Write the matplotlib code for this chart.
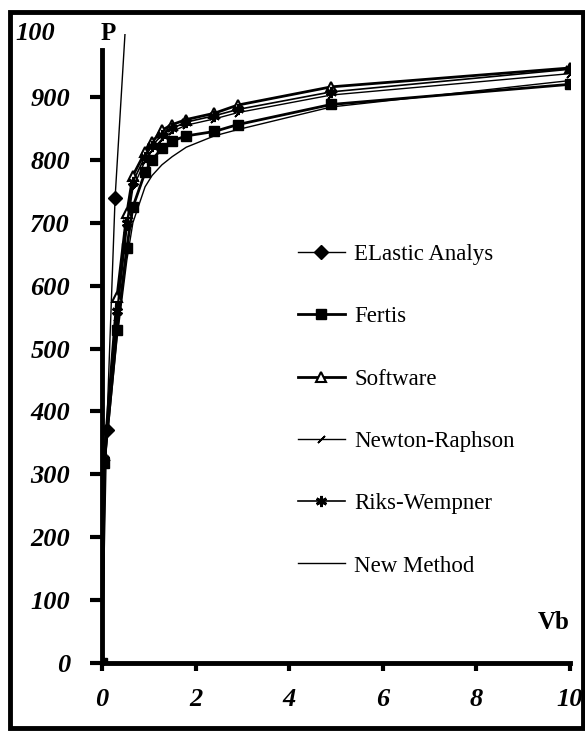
import matplotlib
matplotlib.use("Agg")
import matplotlib.pyplot as plt
from matplotlib.patches import Rectangle

# ---- data ----
vb = [0, 0.05, 0.32, 0.53, 0.66, 0.92, 1.07, 1.28, 1.5, 1.8, 2.4, 2.9, 4.9, 10]
software = [0, 330, 582, 715, 775, 812, 828, 847, 856, 864, 874, 887, 916, 946]
riks = [0, 325, 560, 700, 765, 805, 822, 840, 850, 860, 870, 880, 908, 944]
newton = [0, 320, 550, 690, 755, 798, 815, 833, 845, 855, 865, 875, 903, 937]
fertis = [0, 318, 530, 660, 725, 780, 800, 818, 830, 838, 845, 856, 888, 920]
new_method = [0, 310, 515, 640, 700, 757, 775, 792, 805, 820, 838, 848, 884, 926]
elastic_x = [0, 0.1, 0.28, 0.56]
elastic_y = [0, 370, 740, 1085]

xticks = [0, 2, 4, 6, 8, 10]
yticks = [0, 100, 200, 300, 400, 500, 600, 700, 800, 900]
labels = ["ELastic Analys", "Fertis", "Software", "Newton-Raphson",
          "Riks-Wempner", "New Method"]

W, H = 585, 732
fig = plt.figure(figsize=(W / 100, H / 100), dpi=100)
ax = fig.add_axes([102 / W, (H - 663) / H, 468 / W, 629 / H])

k = "black"
ax.plot(elastic_x, elastic_y, color=k, lw=1.0, marker="D", ms=7, label=labels[0])
ax.plot(vb, fertis, color=k, lw=2.0, marker="s", ms=7, label=labels[1])
ax.plot(vb, software, color=k, lw=2.0, marker="^", ms=7, mfc="white", mew=1.5,
        label=labels[2])
ax.plot(vb, newton, color=k, lw=1.0, marker=(2, 2, -45), ms=7, mew=1.2,
        label=labels[3])
ax.plot(vb, riks, color=k, lw=1.2, marker=(6, 2, 0), ms=8, mew=2.0,
        label=labels[4])
ax.plot(vb, new_method, color=k, lw=1.0, label=labels[5])

ax.set_xlim(0, 10)
ax.set_ylim(0, 1000)
for s in ("top", "right"):
    ax.spines[s].set_visible(False)
ax.spines["left"].set_linewidth(3.5)
ax.spines["bottom"].set_linewidth(3.5)
ax.spines["left"].set_bounds(0, 975)

tick_font = dict(family=["Liberation Serif", "DejaVu Serif"], weight="bold",
                 style="italic", size=19)
ax.set_xticks(xticks)
ax.set_xticklabels([str(v) for v in xticks], fontdict=tick_font)
ax.set_yticks(yticks)
ax.set_yticklabels([str(v) for v in yticks], fontdict=tick_font)
ax.tick_params(axis="y", direction="out", length=9, width=3, pad=14)
ax.tick_params(axis="x", direction="out", length=6, width=3, pad=12)
ax.text(-0.1, 1000, "100", transform=ax.get_yaxis_transform(),
        ha="right", va="center", **tick_font)

ax.text(-0.004, 1.0, "P", transform=ax.transAxes, ha="left", va="center",
        family=["Liberation Serif", "DejaVu Serif"], weight="bold", size=18)
ax.text(1.0, 0.065, "Vb", transform=ax.transAxes, ha="right", va="center",
        family=["Liberation Serif", "DejaVu Serif"], weight="bold", size=18)

leg = ax.legend(loc="upper left", bbox_to_anchor=(298 / W, (H - 244) / H),
                bbox_transform=fig.transFigure, frameon=False,
                prop=dict(family=["Liberation Serif", "DejaVu Serif"], size=16.5),
                labelspacing=1.8, handlelength=2.05, handletextpad=0.4,
                borderpad=0, borderaxespad=0)

fig.patches.append(Rectangle((10 / W, 4 / H), 573 / W, 716 / H,
                             transform=fig.transFigure, fill=False,
                             edgecolor="black", lw=3.5))

fig.savefig("out.png", dpi=100)
